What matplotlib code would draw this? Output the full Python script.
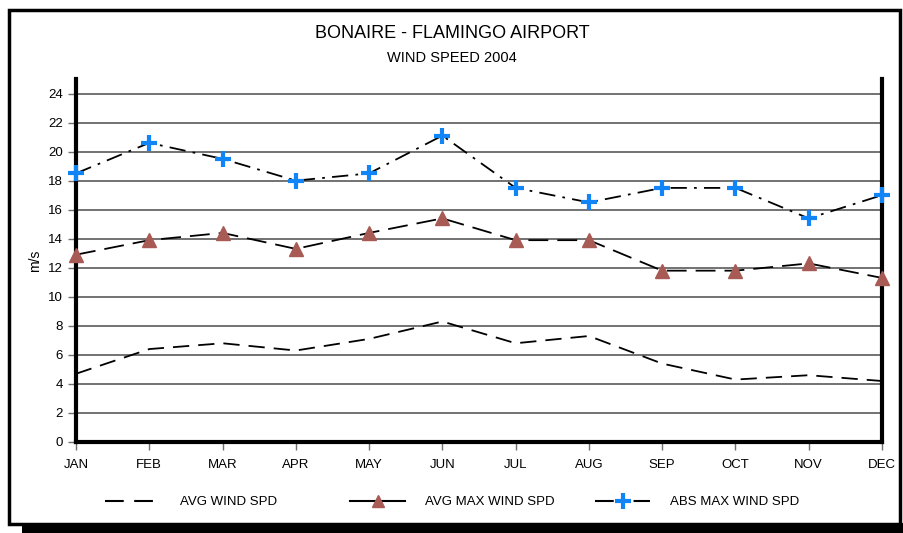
import numpy as np
import matplotlib
matplotlib.use("Agg")
import matplotlib.pyplot as plt
from matplotlib.patches import Rectangle

plt.rcParams['font.family'] = ['Liberation Sans', 'DejaVu Sans']

# data
months = ["JAN", "FEB", "MAR", "APR", "MAY", "JUN", "JUL", "AUG", "SEP", "OCT", "NOV", "DEC"]
avg_wind = [4.7, 6.4, 6.8, 6.3, 7.1, 8.3, 6.8, 7.3, 5.4, 4.3, 4.6, 4.2]
avg_max_wind = [12.9, 13.9, 14.4, 13.3, 14.4, 15.4, 13.9, 13.9, 11.8, 11.8, 12.3, 11.3]
abs_max_wind = [18.5, 20.6, 19.5, 18.0, 18.5, 21.1, 17.5, 16.5, 17.5, 17.5, 15.4, 17.0]
yticks = list(range(0, 25, 2))

fig = plt.figure(figsize=(9.04, 5.33), dpi=100)

# outer frame with drop shadow
fig.patches.append(Rectangle((22 / 904, 0), 1 - 22 / 904, 10 / 533, transform=fig.transFigure,
                             facecolor='black', edgecolor='none', zorder=0))
fig.patches.append(Rectangle((8.5 / 904, 9 / 533), 892 / 904, 514 / 533, transform=fig.transFigure,
                             facecolor='white', edgecolor='black', linewidth=2.5, zorder=1))

ax = fig.add_axes([76 / 904, 1 - 442 / 533, 806 / 904, 363 / 533])
ax.set_zorder(2)
x = np.arange(len(months))

ax.plot(x, avg_wind, color='black', lw=1.3, dashes=(9, 5), clip_on=False)
ax.plot(x, avg_max_wind, color='black', lw=1.3, dashes=(11, 5),
        marker='^', markersize=10, markerfacecolor='#A85A54', markeredgecolor='#A85A54',
        clip_on=False, zorder=4)
ax.plot(x, abs_max_wind, color='black', lw=1.3, dashes=(9, 4, 1.5, 4), clip_on=False)
ax.plot(x, abs_max_wind, linestyle='none', marker='+', markersize=12, markeredgewidth=3,
        color='#1185F5', clip_on=False, zorder=4)

ax.set_xlim(0, 11)
ax.set_ylim(0, 25)
ax.set_yticks(yticks)
ax.set_xticks(x)
ax.set_xticklabels(months)
ax.yaxis.grid(True, color='#5a5a5a', lw=1.2)
ax.set_axisbelow(True)
ax.tick_params(axis='both', colors='#707070', labelcolor='black', labelsize=9.5, length=6, width=1)
ax.tick_params(axis='x', pad=6)
ax.spines['top'].set_visible(False)
for s in ['left', 'bottom', 'right']:
    ax.spines[s].set_linewidth(3)
    ax.spines[s].set_zorder(3)
ax.set_ylabel('m/s', fontsize=10, labelpad=4)

fig.text(0.5, 1 - 34 / 533, 'BONAIRE - FLAMINGO AIRPORT', ha='center', va='center', fontsize=13)
fig.text(0.5, 1 - 58 / 533, 'WIND SPEED 2004', ha='center', va='center', fontsize=10.5)

# legend, one entry at a time so the gaps match the original
h1, = ax.plot([], [], color='black', lw=1.5, dashes=(9, 5))
h2, = ax.plot([], [], color='black', lw=1.5, marker='^', markersize=8,
              markerfacecolor='#A85A54', markeredgecolor='#A85A54')
h3, = ax.plot([], [], color='black', lw=1.5, dashes=(9, 4, 1.5, 4), marker='+',
              markersize=11, markeredgewidth=3, markeredgecolor='#1185F5')
entries = [(h1, 'AVG WIND SPD', 105), (h2, 'AVG MAX WIND SPD', 350), (h3, 'ABS MAX WIND SPD', 595)]
for h, lab, px in entries:
    fig.legend([h], [lab], loc='center left', bbox_to_anchor=(px / 904, 1 - 502 / 533),
               frameon=False, fontsize=9.5, handlelength=4.2, handletextpad=1.5,
               borderpad=0, borderaxespad=0)

fig.savefig('out.png', dpi=100)
